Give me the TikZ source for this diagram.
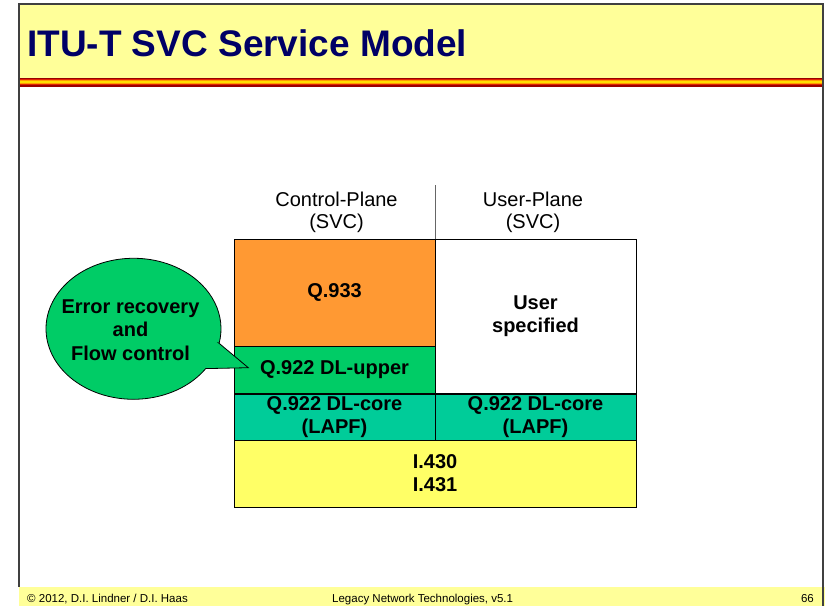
\documentclass[tikz,border=0pt]{standalone}
\usepackage{fontspec}
\setmainfont{Liberation Sans}
\usetikzlibrary{calc}
\definecolor{titlebg}{HTML}{FFFF99}
\definecolor{navy}{HTML}{000066}
\definecolor{qorange}{HTML}{FF9933}
\definecolor{qgreen}{HTML}{00CC66}
\definecolor{qteal}{HTML}{00CC99}
\definecolor{qyellow}{HTML}{FFFF66}
\definecolor{framegray}{HTML}{404040}
\definecolor{darkred}{HTML}{990000}
\definecolor{stripered}{HTML}{DD2200}
\definecolor{stripeorange}{HTML}{FF9900}
\definecolor{stripeyellow}{HTML}{FFDD00}
\tikzset{
  layer/.style={draw=black, line width=0.8pt, inner sep=0pt, align=center,
    font=\fontsize{20}{23}\selectfont\bfseries},
  planelabel/.style={inner sep=0pt, align=center, font=\fontsize{20}{22}\selectfont},
  footertext/.style={inner sep=0pt, font=\fontsize{11.5}{13}\selectfont},
  callout/.style={draw=black, line width=0.8pt, fill=qgreen}
}
\begin{document}
\begin{tikzpicture}[x=1pt,y=-1pt]
\useasboundingbox (0,0) rectangle (825,606);
% title band
\fill[titlebg] (19,4) rectangle (823,78);
\fill[darkred] (19,77.5) rectangle (823,86.5);
\fill[stripered] (19,79) rectangle (823,85);
\fill[stripeorange] (19,80.3) rectangle (823,83.7);
\fill[stripeyellow] (19,81.4) rectangle (823,82.6);
\node[anchor=base west, inner sep=0pt, text=navy,
  font=\fontsize{37}{40}\selectfont\bfseries] (title) at (27,56) {ITU-T SVC Service Model};
% footer band
\fill[titlebg] (19,587) rectangle (825,606);
\node[footertext, anchor=base west] (copy) at (27,602) {© 2012, D.I. Lindner / D.I. Haas};
\node[footertext, anchor=base west] (course) at (332,602) {Legacy Network Technologies, v5.1};
\node[footertext, anchor=base east] (page) at (814,602) {66};
% frame
\draw[framegray, line width=1.5pt] (19,587) -- (19,4) -- (823,4) -- (823,606);
% plane labels and separator
\coordinate (septop) at (435,185);
\coordinate (sepbot) at (435,239);
\draw[draw=black!60, line width=0.8pt] (septop) -- (sepbot);
\node[planelabel, anchor=base] (cplane) at (336.5,228) {Control-Plane\\(SVC)};
\node[planelabel, anchor=base] (uplane) at (533,228) {User-Plane\\(SVC)};
% layers
\node[layer, fill=qorange, minimum width=201pt, minimum height=107pt] (q933) at (334.5,292.5) {Q.933};
\node[layer, fill=white, minimum width=201pt, minimum height=154pt] (user) at (535.5,316) {User\\specified};
\node[layer, fill=qgreen, minimum width=201pt, minimum height=47pt] (dlupper) at (334.5,369.5) {Q.922 DL-upper};
\node[layer, fill=qteal, minimum width=201pt, minimum height=47pt] (dlcore1) at (334.5,417.5) {Q.922 DL-core\\(LAPF)};
\node[layer, fill=qteal, minimum width=201pt, minimum height=47pt] (dlcore2) at (535.5,417.5) {Q.922 DL-core\\(LAPF)};
\node[layer, fill=qyellow, minimum width=402pt, minimum height=67pt] (i430) at (435,473.5) {I.430\\I.431};
% callout
\coordinate (tip) at (248.3,367.7);
\draw[callout] (219.1,343.3) -- (tip) -- (205.7,368.6)
  arc[start angle=34.4, end angle=371.9, x radius=87.5, y radius=70.5] -- cycle;
\node[inner sep=0pt, align=center, font=\fontsize{20}{23.3}\selectfont\bfseries, anchor=base]
  (errtext) at (130.5,360) {Error recovery\\and\\Flow control};
\end{tikzpicture}
\end{document}
